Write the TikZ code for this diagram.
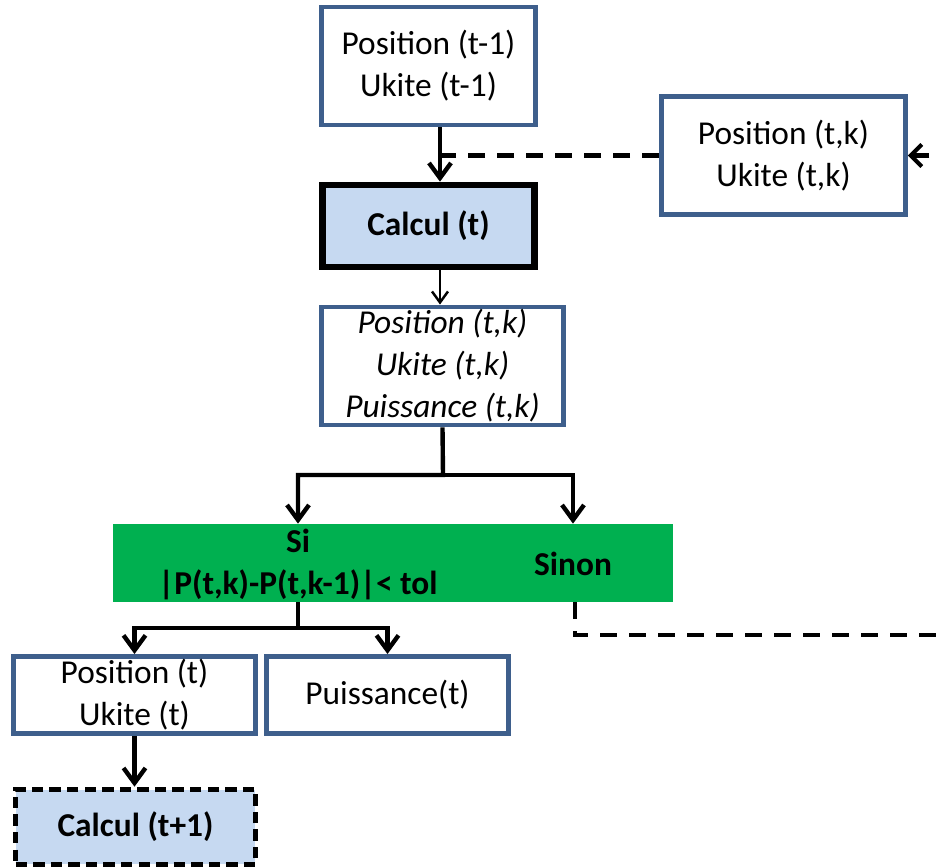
\documentclass[tikz,border=0pt]{standalone}
\usepackage{fontspec}
\setmainfont{Carlito}
\usetikzlibrary{arrows.meta}

\definecolor{boxblue}{HTML}{3E5F8C}
\definecolor{calcfill}{HTML}{C6D9F1}
\definecolor{testgreen}{HTML}{00B050}

\newcommand{\boxfont}{\fontsize{19}{23.9}\selectfont}

\tikzset{
  databox/.style={draw=boxblue, line width=2.8pt, fill=white, align=center, inner sep=0pt,
    minimum width=4.84cm, minimum height=2.36cm, font=\boxfont},
  calcbox/.style={draw=black, line width=3.8pt, fill=calcfill, inner sep=0pt,
    minimum width=4.24cm, minimum height=1.64cm, font=\boxfont\bfseries},
  testbox/.style={fill=testgreen, inner sep=0pt, minimum width=11.2cm, minimum height=1.56cm},
  testtext/.style={align=center, inner sep=0pt, font=\boxfont\bfseries},
  flow/.style={line width=2.5pt, -{Straight Barb[length=0.3cm, width=0.44cm]}},
  thinflow/.style={line width=1.4pt, -{Straight Barb[length=0.22cm, width=0.32cm]}},
  retour/.style={line width=2.3pt, dash pattern=on 9.5pt off 7pt},
}

\begin{document}
\begin{tikzpicture}[x=0.02cm, y=-0.02cm]
            \path[use as bounding box, clip] (0, 0) rectangle (937, 868);

            \node (prev) at (428.5, 66) [databox, minimum width=4.28cm] {Position (t-1)\\Ukite (t-1)};
            \node (iter) at (783.5, 155.5) [databox, minimum width=4.88cm, minimum height=2.36cm] {Position (t,k)\\Ukite (t,k)};
            \node (calc) at (428.5, 226) [calcbox] {Calcul (t)};
            \node (res) at (442.5, 366) [databox, font=\boxfont\itshape] {Position (t,k)\\Ukite (t,k)\\Puissance (t,k)};

            \node (test) at (393, 563) [testbox] {};
            \node (si) at (298, 564) [testtext] {Si\\|P(t,k)-P(t,k-1)|< tol};
            \node (sinon) at (573, 564) [testtext] {Sinon};

            \node (post) at (134.5, 695) [databox, minimum height=1.54cm] {Position (t)\\Ukite (t)};
            \node (puis) at (387.5, 695) [databox, minimum height=1.54cm] {Puissance(t)};
            \node (next) at (135.5, 827) [calcbox, line width=3.2pt, dash pattern=on 6.5pt off 3.5pt, minimum width=4.8cm, minimum height=1.5cm] {Calcul (t+1)};

            \coordinate (fork1) at (443, 475);
            \coordinate (fork2) at (298, 628);
            \coordinate (ret) at (960, 635);

            \draw[flow] ([xshift=0.23cm]prev.south) -- ([xshift=0.23cm]calc.north);
            \draw[retour] (iter.west) -- ([xshift=0.23cm]prev.south |- iter.west);
            \draw[thinflow] ([xshift=0.23cm]calc.south) -- ([xshift=0.23cm]calc.south |- res.north);

            \draw[flow] (res.south) -- (fork1) -| (si |- test.north);
            \draw[flow] (fork1) -| (sinon |- test.north);

            \draw[flow] (si |- test.south) -- (fork2) -| (post);
            \draw[flow] (fork2) -| (puis);
            \draw[flow] (post) -- (post |- next.north);

            \draw[retour, -{Straight Barb[length=0.22cm, width=0.44cm]}] ([xshift=0.04cm]sinon |- test.south) |- (ret) |- (iter.east);

        \end{tikzpicture}
\end{document}
